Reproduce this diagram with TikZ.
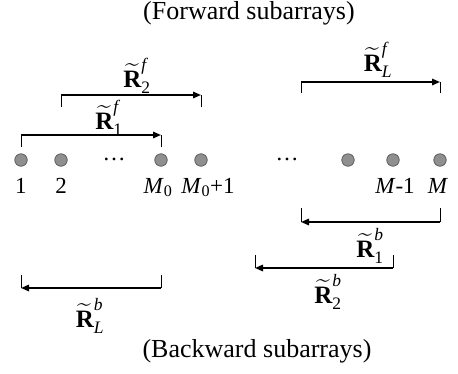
\documentclass[tikz,border=0pt]{standalone}
\usepackage{fontspec}
\setmainfont{Liberation Serif}
\usepackage{amsmath}
\usetikzlibrary{arrows.meta,calc}
\definecolor{cElemF}{HTML}{8F8F8F}
\definecolor{cElemL}{HTML}{555555}
\tikzset{
  elem/.style={circle,draw=cElemL,fill=cElemF,line width=0.7pt,
      minimum size=12.5pt,inner sep=0pt},
  idx/.style={font=\fontsize{23}{26}\selectfont,inner sep=0pt,anchor=base},
  ttl/.style={font=\fontsize{26}{30}\selectfont,inner sep=0pt,anchor=base},
  sublab/.style={font=\fontsize{25}{28}\selectfont,inner sep=0pt},
  subline/.style={line width=1.5pt,-{Triangle[length=8pt,width=6.5pt]}},
  subtick/.style={line width=0.8pt},
}
% forward subarray: left node, right node, line y, tick y
\newcommand{\fwdsub}[4]{%
  \draw[subtick] (#1 |- 0,#4) -- (#1 |- 0,#3);
  \draw[subtick] (#2 |- 0,#4) -- (#2 |- 0,#3);
  \draw[subline] (#1 |- 0,#3) -- (#2 |- 0,#3);}
% backward subarray: arrow runs right to left
\newcommand{\bwdsub}[4]{%
  \draw[subtick] (#1 |- 0,#4) -- (#1 |- 0,#3);
  \draw[subtick] (#2 |- 0,#4) -- (#2 |- 0,#3);
  \draw[subline] (#2 |- 0,#3) -- (#1 |- 0,#3);}
\newcommand{\Rt}[2]{$\widetilde{\textbf{R}}^{#2}_{#1}$}

\begin{document}
\begin{tikzpicture}[x=1pt,y=-1pt]
  \useasboundingbox (0,0) rectangle (458,373);

  \node[ttl] (tf) at (249,19) {(Forward subarrays)};
  \node[ttl] (tb) at (257,357) {(Backward subarrays)};

  % array elements
  \node[elem] (e1) at (21,160) {};
  \node[elem] (e2) at (61,160) {};
  \node[elem] (em0) at (161,160) {};
  \node[elem] (em1) at (201,160) {};
  \node[elem] (emm2) at (348,160) {};
  \node[elem] (emm1) at (393,160) {};
  \node[elem] (em) at (440,160) {};
  \coordinate (gapL) at (301,160);
  \coordinate (gap2) at (255,160);

  \node[idx] (dl) at (114,160) {\ldots};
  \node[idx] (dr) at (287,160) {\ldots};

  \node[idx] (l1) at (21,193) {1};
  \node[idx] (l2) at (61,193) {2};
  \node[idx] (lm0) at (158,193) {\textit{M}$_{\textrm{0}}$};
  \node[idx] (lm1) at (208,193) {\textit{M}$_{\textrm{0}}$+1};
  \node[idx] (lmm1) at (395,193) {\textit{M}-1};
  \node[idx] (lm) at (438,193) {\textit{M}};

  % forward subarrays
  \fwdsub{e1}{em0}{135}{147}
  \fwdsub{e2}{em1}{95}{107}
  \fwdsub{gapL}{em}{82}{93}
  \node[sublab] (rf1) at (109,118) {\Rt{\textrm{1}}{\textit{f}}};
  \node[sublab] (rf2) at (137,76) {\Rt{\textrm{2}}{\textit{f}}};
  \node[sublab] (rfl) at (378,60) {\Rt{\textit{L}}{\textit{f}}};

  % backward subarrays
  \bwdsub{gapL}{em}{222}{208}
  \bwdsub{gap2}{emm1}{268}{255}
  \bwdsub{e1}{em0}{288}{275}
  \node[sublab] (rb1) at (370,246) {\Rt{\textrm{1}}{\textit{b}}};
  \node[sublab] (rb2) at (328,292) {\Rt{\textrm{2}}{\textit{b}}};
  \node[sublab] (rbl) at (90,316) {\Rt{\textit{L}}{\textit{b}}};
\end{tikzpicture}
\end{document}
